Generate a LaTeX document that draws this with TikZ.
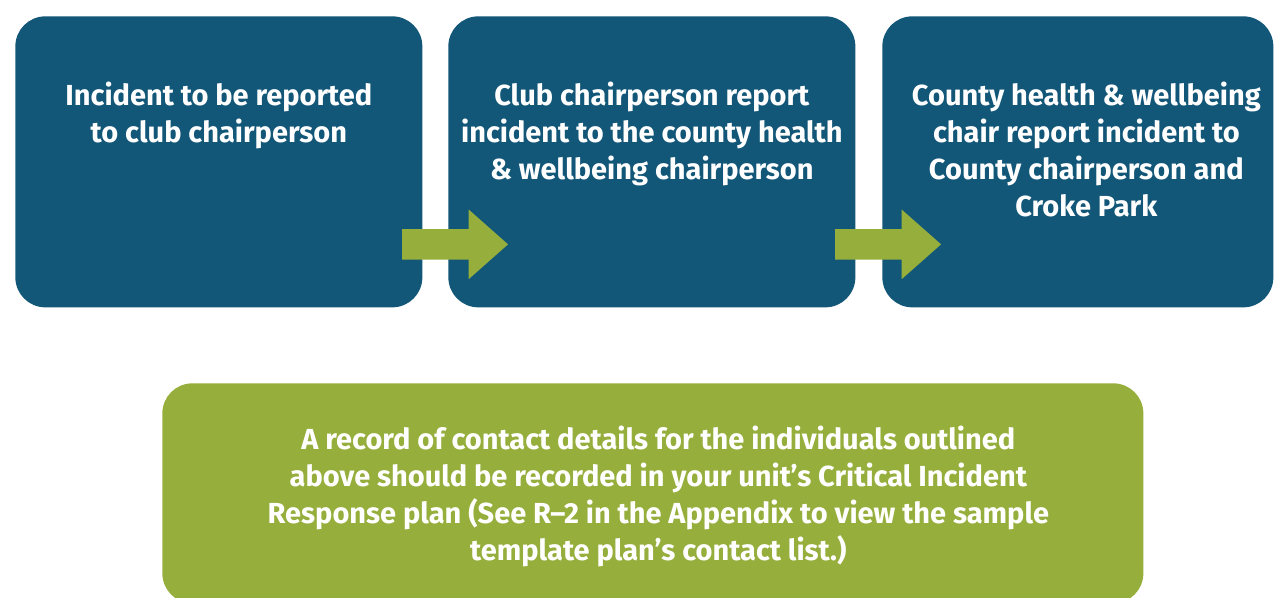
\documentclass[tikz,border=0pt]{standalone}
\usepackage{fontspec}
\setmainfont{Fira Sans}
\usepackage{tikz}
\usetikzlibrary{positioning, calc, shapes.arrows}
\definecolor{stageblue}{RGB}{18,86,120}
\definecolor{stagegreen}{RGB}{150,174,60}

\begin{document}
\begin{tikzpicture}[
    stagebox/.style={fill=stageblue, rounded corners=0.6cm, minimum width=8.14cm,
        minimum height=5.82cm, inner sep=0pt, anchor=north west},
    notebox/.style={fill=stagegreen, rounded corners=0.6cm, minimum width=19.62cm,
        minimum height=4.40cm, inner sep=0pt, anchor=north west},
    boxtext/.style={text=white, align=center, inner sep=0pt,
        font=\bfseries\fontsize{16.5}{21}\selectfont},
    bigarrow/.style={single arrow, fill=stagegreen, draw=none, inner xsep=0pt,
        inner ysep=0.3cm, minimum height=2.12cm, single arrow head extend=0.39cm,
        single arrow tip angle=83, anchor=tail}
]
    \useasboundingbox (0,0) rectangle (25.48,11.94);

    % the three stages
    \node[stagebox] (b1) at (0.30,11.62) {};
    \node[stagebox] (b2) at (8.96,11.62) {};
    \node[stagebox, minimum width=7.82cm] (b3) at (17.64,11.62) {};

    \node[boxtext, below=1.32cm of b1.north] (t1) {Incident to be reported\\to club chairperson};
    \node[boxtext, below=1.32cm of b2.north] (t2) {Club chairperson report\\incident to the county health\\\& wellbeing chairperson};
    \node[boxtext, below=1.32cm of b3.north, xshift=0.17cm] (t3) {County health \& wellbeing\\chair report incident to\\County chairperson and\\Croke Park};

    % arrows between the stages
    \node[bigarrow] (a1) at ($(b1.east)+(-0.42,-1.65)$) {};
    \node[bigarrow] (a2) at ($(b2.east)+(-0.42,-1.65)$) {};

    % note underneath
    \node[notebox] (note) at (3.24,4.28) {};
    \node[boxtext, below=0.86cm of note.north, xshift=0.11cm] (tn) {A record of contact details for the individuals outlined\\above should be recorded in your unit’s Critical Incident\\Response plan (See R–2 in the Appendix to view the sample\\template plan’s contact list.)};
\end{tikzpicture}
\end{document}
